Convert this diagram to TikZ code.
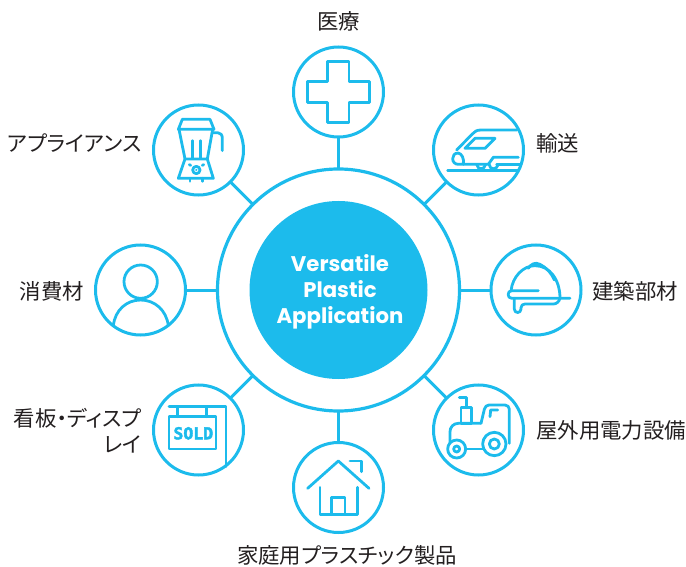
\documentclass[tikz,border=0pt]{standalone}
\usepackage{fontspec}
\setmainfont{Noto Sans CJK JP}[RawFeature={+palt}]
\newfontfamily\titlefont{Poppins}
\newfontfamily\soldfont{DejaVu Sans Mono}[BoldFeatures={RawFeature={embolden=2.5}}]
\definecolor{brandblue}{HTML}{1CBBEC}
\definecolor{labelgrey}{HTML}{231F20}
\tikzset{
  iconring/.style={circle,draw=brandblue,line width=3pt,minimum size=90pt,inner sep=0pt,outer sep=0pt},
  bigring/.style={circle,draw=brandblue,line width=3.2pt,minimum size=242pt,inner sep=0pt,outer sep=0pt},
  hub/.style={circle,fill=brandblue,minimum size=178pt,inner sep=0pt,outer sep=0pt,text=white,align=center,font=\titlefont\bfseries\fontsize{21.2}{26}\selectfont},
  spoke/.style={draw=brandblue,line width=3pt},
  lbl/.style={text=labelgrey,font=\fontsize{21.4}{26}\selectfont,inner sep=0pt},
  glyph/.style={draw=brandblue,line width=2.8pt,line cap=round,line join=round},
  zoomed/.style={x=0.33333pt,y=-0.33333pt}
}
\begin{document}
\begin{tikzpicture}[x=1pt,y=-1pt]
\useasboundingbox (0,0) rectangle (686,567);
\node[bigring] (ring) at (338.5,290) {};
\node[hub] (hub) at (338.5,290) {\hspace*{3pt}\rule{0pt}{20pt}Versatile\\\hspace*{3pt}Plastic\\\hspace*{3pt}Application};
\node[iconring] (medical) at (338.5,92) {};
\node[iconring] (train) at (478.5,150) {};
\node[iconring] (helmet) at (536,290) {};
\node[iconring] (tractor) at (478.5,430) {};
\node[iconring] (house) at (338.5,487.5) {};
\node[iconring] (sold) at (198.5,430) {};
\node[iconring] (person) at (140.5,290) {};
\node[iconring] (blender) at (198.5,150) {};
\foreach \n in {medical,train,helmet,tractor,house,sold,person,blender}
  \draw[spoke] (ring) -- (\n);
\node[lbl] (lmedical) at (338.5,21) {医療};
\node[lbl,anchor=west] (ltrain) at (536,143) {輸送};
\node[lbl,anchor=west] (lhelmet) at (592,291) {建築部材};
\node[lbl,anchor=west] (ltractor) at (536,430) {屋外用電力設備};
\node[lbl] (lhouse) at (347,555) {家庭用プラスチック製品};
\node[lbl,anchor=east,align=right] (lsold) at (141.5,431) {看板・ディスプ\\レイ};
\node[lbl,anchor=east] (lperson) at (84,291) {消費材};
\node[lbl,anchor=east] (lblender) at (141.5,143) {アプライアンス};
% cross
\begin{scope}[shift={(285,40)},zoomed]
\draw[glyph] (127,65)--(192,65)--(192,125)--(253,125)--(253,188)--(192,188)--(192,248)--(127,248)--(127,188)--(68,188)--(68,125)--(127,125)--cycle;
\end{scope}
% train
\begin{scope}[shift={(425,95)},zoomed]
\draw[glyph] (275,105)--(168,105) .. controls (155,105) and (148,110) .. (142,117)--(95,165);
\draw[glyph] (150,130)--(210,130)--(180,160)--(120,160)--cycle;
\draw[glyph] (100,174) .. controls (88,174) and (83,182) .. (83,191) .. controls (83,201) and (90,208) .. (100,208)--(190,208)--(205,187)--(280,187);
\draw[glyph] (100,174) .. controls (110,176) and (118,190) .. (115,208);
\draw[glyph] (215,208)--(285,208);
\draw[glyph] (68,226)--(280,226);
\draw[glyph] (155,208) .. controls (158,226) and (178,226) .. (182,208);
\draw[glyph] (192,208) .. controls (195,226) and (215,226) .. (220,208);
\end{scope}
% helmet
\begin{scope}[shift={(485,235)},zoomed]
\draw[glyph] (78,168) .. controls (82,125) and (115,92) .. (150,92) .. controls (195,92) and (225,135) .. (225,190);
\draw[glyph] (130,100) .. controls (137,88) and (150,80) .. (165,88) .. controls (185,98) and (200,115) .. (208,135);
\draw[glyph] (160,167)--(80,167) .. controls (66,167) and (66,190) .. (80,190)--(255,190);
\draw[glyph] (88,190)--(88,222) .. controls (88,236) and (108,236) .. (108,222)--(108,218) .. controls (108,211) and (114,207) .. (120,207)--(205,207) .. controls (215,207) and (222,200) .. (225,190);
\end{scope}
% tractor
\begin{scope}[shift={(425,375)},zoomed]
\draw[glyph] (103,68)--(125,68)--(125,98);
\draw[glyph] (108,98)--(140,98)--(140,145)--(108,145)--cycle;
\draw[glyph] (168,145)--(100,145) .. controls (85,145) and (75,157) .. (75,170)--(75,205);
\draw[glyph] (168,145)--(178,103) .. controls (180,95) and (185,90) .. (192,90)--(240,90) .. controls (248,90) and (253,96) .. (253,103)--(253,205);
\draw[glyph] (195,125)--(197,105)--(218,105);
\draw[glyph] (208,207) circle (35);
\draw[glyph] (208,207) circle (15);
\draw[glyph] (95,222) circle (27);
\draw[glyph] (95,222) circle (9);
\draw[glyph] (122,222)--(175,222);
\end{scope}
% house
\begin{scope}[shift={(285,435)},zoomed]
\draw[glyph] (68,160)--(160,78)--(252,160);
\draw[glyph] (195,78)--(230,78)--(230,110);
\draw[glyph] (105,157)--(105,238)--(217,238)--(217,157);
\draw[glyph] (140,238)--(140,187)--(180,187)--(180,238);
\end{scope}
% sold sign
\begin{scope}[shift={(145,375)},zoomed]
\draw[glyph] (72,95)--(243,95)--(243,275);
\draw[glyph] (98,95)--(98,125);
\draw[glyph] (185,95)--(185,125);
\draw[glyph] (72,125) rectangle (213,222);
\node[text=brandblue,inner sep=0pt,font=\soldfont\bfseries\fontsize{16.5}{17}\selectfont] (soldtext) at (145,175) {SOLD};
\end{scope}
% person
\begin{scope}[shift={(85,235)},zoomed]
\draw[glyph] (167,140) circle (50);
\draw[glyph] (85,272) .. controls (90,225) and (125,195) .. (167,195) .. controls (209,195) and (244,225) .. (250,272);
\end{scope}
% blender
\begin{scope}[shift={(150,90)},zoomed]
\draw[glyph] (97,88)--(180,88)--(192,118)--(85,118)--cycle;
\draw[glyph] (87,118)--(105,207);
\draw[glyph] (188,118)--(172,207);
\draw[glyph] (105,207)--(172,207)--(190,265)--(85,265)--cycle;
\draw[glyph] (188,128)--(203,128) .. controls (212,128) and (217,135) .. (217,145)--(217,182);
\draw[glyph] (127,152)--(127,205);
\draw[glyph] (151,152)--(151,205);
\draw[glyph] (139,240) circle (11);
\fill[brandblue] (139,240) circle (3.5);
\draw[glyph] (118,224)--(122,226);
\draw[glyph] (157,226)--(161,224);
\draw[glyph] (120,265)--(120,274);
\draw[glyph] (158,265)--(158,274);
\end{scope}
\end{tikzpicture}
\end{document}
